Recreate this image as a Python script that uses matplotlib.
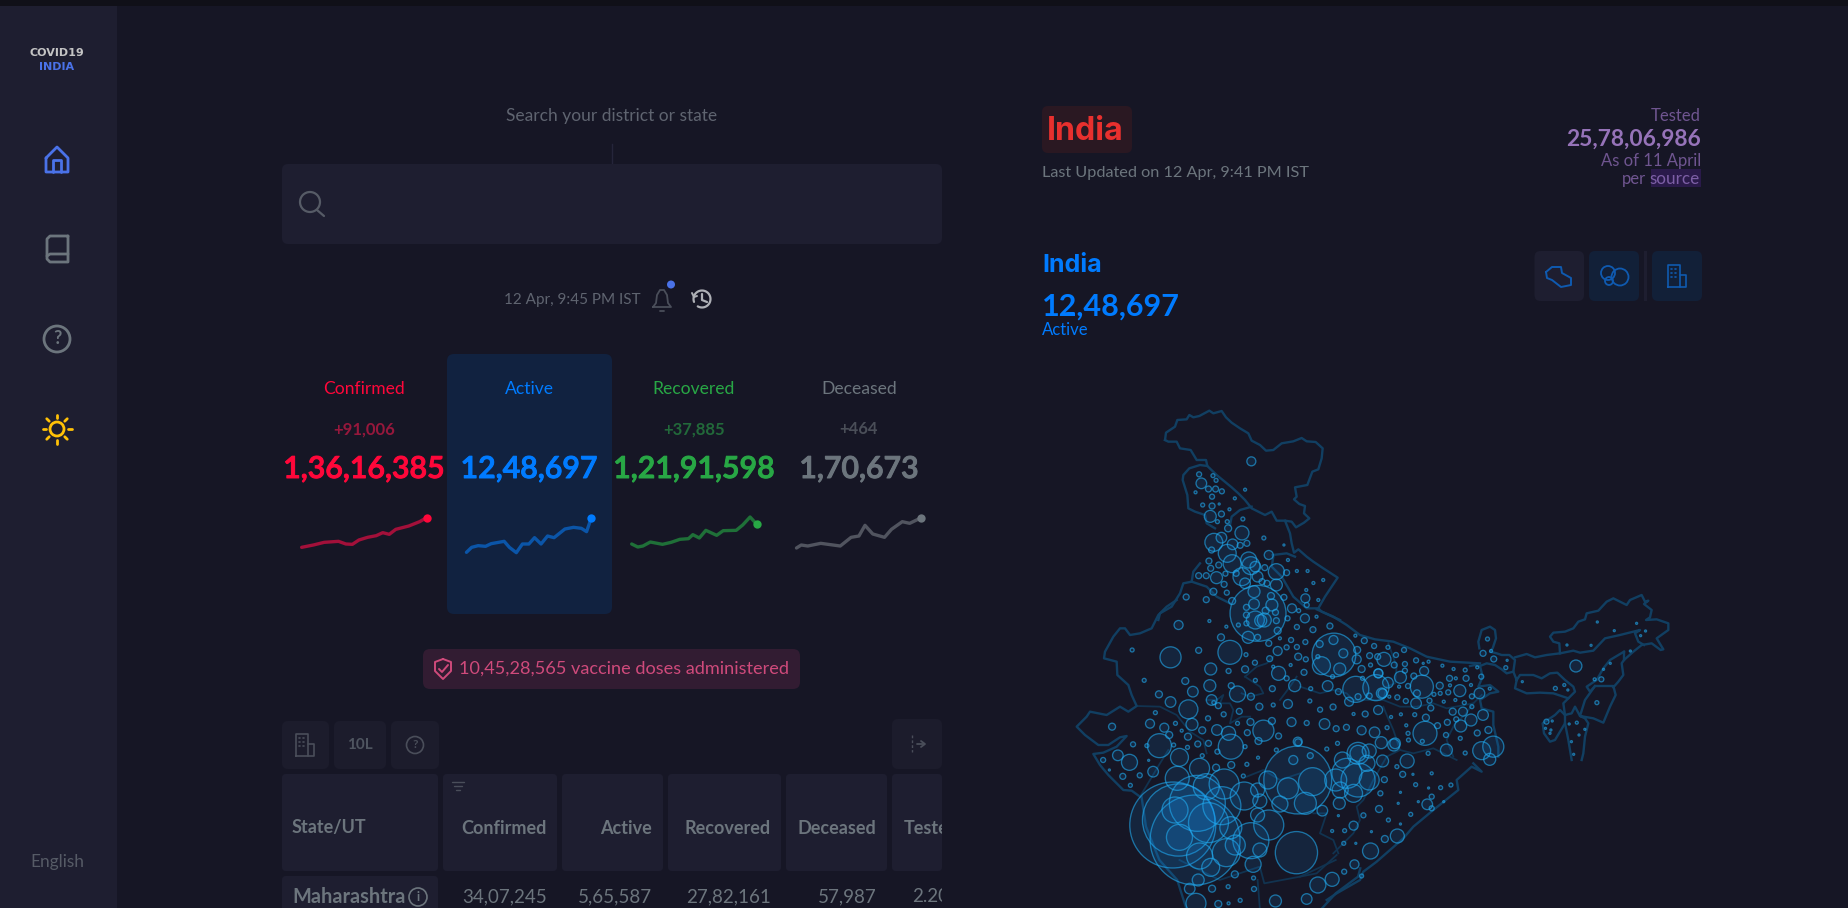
import matplotlib
matplotlib.use("Agg")
import matplotlib.pyplot as plt
import matplotlib.patheffects as pe
import numpy as np
from matplotlib.patches import FancyBboxPatch, Circle, Rectangle
from matplotlib.transforms import Bbox

plt.rcParams["font.family"] = ["Lato", "DejaVu Sans"]

# headline numbers
stat_labels = ["Confirmed", "Active", "Recovered", "Deceased"]
stat_deltas = ["+91,006", "", "+37,885", "+464"]
stat_totals = ["1,36,16,385", "12,48,697", "1,21,91,598", "1,70,673"]

confirmed_x = [73, 100, 125, 158, 175, 190, 205, 225, 245, 260, 275, 290, 320, 345, 361]
confirmed_y = [622, 615, 607, 604, 612, 613, 600, 592, 587, 578, 583, 568, 558, 545, 533]
active_x = [453, 465, 480, 497, 510, 540, 552, 568, 582, 597, 610, 625, 640, 655, 680, 700, 718, 730, 741]
active_y = [637, 622, 617, 619, 611, 604, 622, 638, 612, 612, 593, 612, 588, 593, 567, 562, 565, 575, 533]
recovered_x = [834, 848, 860, 877, 905, 925, 945, 965, 975, 990, 1005, 1030, 1045, 1075, 1090, 1107, 1122]
recovered_y = [612, 621, 618, 606, 613, 607, 598, 596, 584, 594, 571, 586, 572, 571, 555, 531, 552]
deceased_x = [1214, 1225, 1240, 1270, 1315, 1340, 1358, 1372, 1390, 1417, 1433, 1458, 1475, 1502]
deceased_y = [624, 615, 618, 610, 618, 592, 588, 556, 582, 592, 568, 545, 550, 533]

# table
table_headers = ["Confirmed", "Active", "Recovered", "Deceased"]
maharashtra_row = ["34,07,245", "5,65,587", "27,82,161", "57,987"]

# map borders traced per crop, (crop origin, points)
north_outer = [(45,120),(48,98),(75,80),(82,60),(110,58),(118,45),(130,52),(148,48),(178,32),(190,40),(215,33),(228,52),
    (245,68),(270,85),(295,100),(305,122),(330,135),(348,152),(370,150),(395,130),(430,124),(455,114),(470,124),(497,126),
    (518,145),(515,175),(505,208),(487,215),(472,255),(435,262),(440,290),(432,298),(448,312),(465,318),(462,340),(478,355),
    (462,368),(438,382),(425,365),(405,362),(420,400),(425,430),(432,458),(445,448),(470,470),(490,485),(520,505),(563,533),
    (545,560),(525,590),(505,625),(515,635),(570,660)]
north_west = [(45,120),(55,125),(80,125),(90,145),(122,150),(140,180),(168,180),(172,198),(150,195),(118,205),(100,225),
    (98,240),(112,285),(115,325),(135,335),(165,345),(170,370),(195,385)]
north_inner = [
    [(172,198),(200,225),(245,262),(265,280),(285,300),(305,325),(345,345),(365,335),(380,362),(405,362)],
    [(305,320),(270,330),(245,350),(240,375)],
    [(368,465),(410,460),(435,470)],
    [(370,470),(365,500),(395,530),(430,590),(470,625),(505,625)],
    [(150,490),(130,515),(125,545),(100,550),(90,580),(65,620),(30,640),(25,660)],
    [(125,545),(170,560),(200,590),(240,610)],
]
east_outer = [
    [(28,205),(25,185),(35,150),(60,140),(75,150),(78,175),(68,205),(60,215),(80,220),(95,225),(118,225),(135,240),(130,275),(110,280),(95,268),(75,255),(50,250),(30,258),(15,255),(0,258)],
    [(135,232),(170,222),(195,232),(230,225),(270,220),(310,212),(330,218),(370,212),(405,175),(450,165),(510,150),(495,160),(505,185),(522,195)],
    [(270,220),(268,190),(250,185),(240,170),(250,158),(285,155),(310,145),(325,125),(345,118),(350,100),(385,92),(410,65),(430,55),(470,75),(480,60),(515,45),(525,65),(535,62),(522,72),(545,90),(540,112),(528,120),(560,118),(595,130),(595,150),(560,175),(580,208),(572,210),(545,190),(515,195),(490,215),(462,240),(455,250),(460,285),(445,305),(430,322)],
    [(462,215),(462,240)],
    [(462,215),(420,240),(400,265),(380,300),(350,320),(360,335),(375,318),(430,318),(437,345),(420,380),(400,428),(370,415),(330,408),(345,415),(355,430),(345,470),(340,520),(335,540)],
    [(375,318),(345,360),(330,408),(315,380),(305,400),(285,405),(280,370),(295,355)],
    [(285,405),(270,390),(255,405),(218,430),(222,460),(240,485),(255,480),(270,455),(285,430),(285,405)],
    [(285,430),(295,480),(305,540)],
    [(130,275),(140,300),(135,325),(170,340),(210,338),(250,340),(295,355),(315,335),(310,320),(285,300),(262,278),(240,280),(215,295),(190,285),(150,285),(140,300)],
    [(30,258),(38,290),(25,320),(60,315),(85,335),(60,340),(30,360),(35,385),(70,395),(70,435),(85,500),(85,530)],
]
west_outer = [(350,0),(320,20),(295,45),(275,85),(240,100),(210,105),(195,85),(180,85),(160,110),(135,155),(132,175),(170,185),
    (172,225),(205,255),(215,285),(230,318),(205,335),(180,320),(140,345),(90,335),(80,350),(50,380),(75,405),(115,435),(145,435),
    (180,412),(200,408),(170,440),(130,458),(100,462),(120,495),(145,525),(190,570),(215,572),(240,590)]
west_inner = [
    [(230,318),(300,320),(320,330),(350,345),(390,395),(430,420),(440,460)],
    [(440,300),(470,300),(490,285),(480,310),(510,310),(520,330),(510,370),(545,350),(570,350)],
    [(555,230),(600,260),(610,280),(570,290),(545,280)],
    [(660,300),(690,260),(710,230)],
    [(555,230),(590,200),(620,190),(640,170)],
    [(240,590),(300,490),(325,450)],
    [(560,530),(610,510),(660,540),(720,520)],
]
gangetic_outer = [(50,28),(100,50),(140,75),(180,105),(225,118),(280,125),(330,145),(380,170),(450,185),(540,190)]
gangetic_inner = [
    [(265,130),(290,200),(285,250),(260,260),(250,300)],
    [(0,260),(60,280),(100,270),(140,280),(160,300),(200,300),(250,300),(300,320),(350,320),(400,310),(440,325),(520,310),(545,285)],
    [(520,310),(495,345),(465,370),(440,420),(460,470)],
    [(250,320),(260,345),(280,390),(300,450),(340,460),(400,445),(450,470),(470,480)],
    [(300,450),(260,470),(220,540),(190,600),(170,620),(180,660),(160,700),(100,760)],
    [(115,760),(100,720),(60,700),(80,640),(40,640)],
    [(0,830),(50,820),(110,765)],
]
east_coast = [(520,490),(545,515),(515,500),(470,540),(475,570),(450,590),(400,630),(340,680),(310,715),(270,750),(230,785),(190,815),(180,840),(110,880),(80,900)]
# west coast below the Gujarat crop, in units of the map axes
south_west_coast = [(205,1190),(215,1280),(245,1380),(285,1440),(305,1524)]
south_east_coast = [(695,1405),(690,1430),(640,1480),(610,1524)]
south_inner = [[(290,1380),(380,1440),(470,1400),(480,1450),(560,1430),(640,1380)], [(465,1440),(470,1524)]]

# large districts: map position and active cases
big_x = [275, 288, 325, 552, 555, 466, 636, 330, 355, 385, 450, 490, 690, 665, 390, 588, 435, 395, 335, 350,
         285, 290, 280, 415, 533, 403, 405, 840, 245, 833, 270, 685, 730, 993, 478, 572, 690, 640, 715, 310,
         967, 290, 608, 488, 360, 327, 335, 680, 405]
big_y = [1275, 1260, 1320, 1358, 1140, 640, 765, 1210, 1268, 1217, 1322, 1275, 1140, 1120, 1152, 1145, 1188, 1358, 1368, 1160,
         1135, 1312, 1230, 1335, 1165, 757, 1040, 1000, 1037, 860, 772, 868, 863, 1040, 992, 1210, 1060, 1140, 1140, 928,
         1052, 1072, 797, 1140, 1402, 1510, 1105, 1180, 1283]
big_active = [85000, 60000, 93000, 20500, 53000, 36000, 22000, 36000, 18400, 16600, 14900, 10350, 13300, 10350, 10350, 9000, 9000, 9000, 7800, 7800,
              6600, 7800, 7800, 4600, 5100, 6600, 7200, 6600, 6600, 6100, 5100, 7800, 7800, 5100, 5100, 5550, 5550, 5550, 4600, 4150,
              3700, 3700, 3700, 3700, 3700, 4600, 4600, 3700, 5550]

# smaller districts grouped by rough active count
cases_3700 = [(430,530),(397,460),(408,491),(367,427),(460,660),(450,497)]
cases_2950 = [(445,480),(507,515),(178,1087),(420,882),(710,1090),(655,1080),(650,1170),(515,1212),(600,1455),(718,1353),(455,1393),(690,1060)]
cases_2250 = [(430,399),(400,1000),(480,660),(748,778),(512,820),(470,1350),(465,1245),(470,1203),(465,1170),(632,1438),(778,1308),(715,1053),(800,1083)]
cases_1650 = [(373,533),(507,555),(359,349),(497,615),(444,712),(457,575),(360,807),(318,973),(358,857),(649,807),(472,662),(548,857),(888,1050),(920,978),(943,960),(785,832),(648,1210),(745,1083),(770,1035),(742,1028),(1178,798),(985,1078),(505,1503),(332,1440),(918,872)]
cases_1300 = [(339,250),(384,413),(409,433),(460,500),(465,530),(437,550),(457,612),(320,875),(362,900),(374,990),(622,858),(743,880),(757,848),(610,1232),(962,880),(773,1030),(970,945),(727,997),(615,972),(270,906),(152,1066),(231,1115),(313,1466),(575,1497),(820,910),(845,1213)]
cases_930 = [(451,184),(490,465),(571,655),(572,595),(542,625),(288,675),(635,720),(510,753),(657,760),(687,778),(838,813),(224,971),(256,983),(533,912),(545,1080),(735,930),(698,991),(682,1393),(680,1277),(736,820),(670,905),(925,935),(541,966),(745,880),(735,820),(555,1025)]
cases_560 = [(399,385),(495,588),(408,603),(483,632),(366,575),(510,692),(383,712),(303,843),(244,883),(450,890),(437,808),(469,920),(449,966),(497,963),(341,991),(267,1005),(309,1010),(139,980),(556,1027),(467,1023),(406,1095),(372,1103),(556,770),(688,750),(604,732),(698,807),(873,857),(822,880),(902,935),(842,953),(982,990),(750,1317),(737,1227),(414,1423),(363,1466),(377,1512)]
cases_410 = [(362,450),(356,483),(378,495),(360,505),(481,503),(530,518),(350,527),(333,527),(417,520),(390,553),(486,550),(475,545),(305,591),(350,599),(524,592),(440,622),(440,645),(505,637),(507,662),(363,318),(384,342),(355,267),(371,267),(426,436),(441,430),(589,689),(627,678),(465,712),(490,730),(492,776),(333,751),(704,722),(716,767),(734,770),(771,795),(569,817),(377,917),(406,857),(498,866),(424,934),(442,998),(646,875),(690,890),(715,888),(634,921),(815,828),(895,835),(932,835),(853,924),(706,942),(868,977),(890,967),(664,982),(641,986),(957,999),(512,1008),(355,1030),(331,1032),(583,1067),(163,1129),(790,1123),(749,1139),(970,760),(994,777)]
cases_290 = [(334,223),(385,274),(363,290),(393,521),(396,578),(575,615),(532,655),(553,681),(440,670),(540,720),(572,726),(530,742),(553,741),(726,738),(775,765),(793,750),(573,778),(400,813),(459,788),(530,835),(605,929),(389,943),(354,955),(797,903),(802,858),(892,877),(945,889),(966,830),(850,902),(778,892),(575,969),(910,958),(887,1005),(186,1033),(375,1055),(119,1080),(201,1126),(740,1180),(855,1190),(702,1246),(659,1415),(457,1467),(1112,965),(1235,838),(855,1225),(795,792),(795,812),(820,781)]
cases_180 = [(372,241),(365,227),(342,315),(397,365),(375,365),(432,357),(479,414),(422,675),(557,632),(600,770),(718,795),(757,742),(930,810),(980,717),(1021,803),(184,750),(439,764),(633,830),(700,835),(211,841),(367,908),(460,841),(500,915),(281,970),(236,938),(420,970),(582,903),(584,866),(860,883),(874,880),(928,908),(945,920),(817,944),(802,1000),(755,983),(919,1015),(930,1059),(847,1060),(834,1024),(803,1020),(644,1030),(620,1047),(507,1050),(437,1040),(277,1035),(217,1037),(308,1042),(341,1067),(441,1093),(180,1156),(433,1128),(777,1100),(819,1154),(875,1163),(898,1155),(808,1243),(758,1260),(660,1292),(658,1330),(698,1428),(399,1460),(456,1434),(426,1501),(1225,908),(1132,865)]
cases_100 = [(437,269),(326,277),(414,295),(402,328),(533,480),(553,513),(577,513),(612,540),(590,549),(574,570),(601,600),(597,650),(357,663),(395,680),(515,715),(684,707),(848,785),(879,797),(904,807),(957,802),(988,753),(500,800),(539,795),(760,890),(782,860),(909,835),(896,856),(943,855),(985,866),(908,900),(882,905),(680,942),(764,951),(786,943),(798,976),(295,992),(466,1073),(855,1120),(632,1293),(400,1510),(1220,838),(1152,855),(1180,968)]
cases_46 = [(379,312),(524,435),(836,790),(1024,781),(221,1081),(133,1110),(813,1123),(848,1164),(785,1177),(780,1210),(825,1205),(882,1205),(646,1247),(785,1272),(720,1295),(685,1330),(1226,666),(1264,692),(1314,670),(1334,693),(1323,707),(1212,736),(1158,735),(1300,753),(1255,790),(1240,808),(1058,845),(1160,870),(1163,972),(1125,963),(1110,985),(1120,1000),(1198,988),(1185,1005),(1168,1025),(1173,1063),(1122,990)]
case_bands = [(3700, cases_3700), (2950, cases_2950), (2250, cases_2250), (1650, cases_1650), (1300, cases_1300),
              (930, cases_930), (560, cases_560), (410, cases_410), (290, cases_290), (180, cases_180),
              (100, cases_100), (46, cases_46)]

BG = "#161625"
PANEL = "#1e1e30"
GREY = "#6c757d"
DIM = "#565b66"

fig = plt.figure(figsize=(18.48, 9.08), dpi=100, facecolor=BG)
ax = fig.add_axes([0, 0, 1, 1])
ax.set_xlim(0, 1848)
ax.set_ylim(908, 0)
ax.axis("off")


def box(x0, y0, x1, y1, color, r=6, z=1):
    ax.add_patch(FancyBboxPatch((x0 + r, y0 + r), x1 - x0 - 2 * r, y1 - y0 - 2 * r,
                                boxstyle=f"round,pad={r},rounding_size={r}", fc=color, ec="none", zorder=z))


def txt(x, y, s, color, size, ha="center", weight="normal", **kw):
    return ax.text(x, y + 1, s, color=color, fontsize=size, ha=ha, va="center", fontweight=weight, zorder=5, **kw)


def icon(xs, ys, color, lw=1.6):
    ax.plot(xs, ys, color=color, lw=lw, solid_capstyle="round", solid_joinstyle="round", zorder=5)


def ring(x, y, r, color, lw=1.6):
    ax.add_patch(Circle((x, y), r, fc="none", ec=color, lw=lw, zorder=5))


def building(cx, cy, color):
    icon([cx-9, cx-9, cx+3, cx+3, cx-9], [cy+11, cy-11, cy-11, cy+11, cy+11], color, 1.2)
    icon([cx+3, cx+9, cx+9, cx+3], [cy-1, cy-1, cy+11, cy+11], color, 1.2)
    for dx in (-6, -2):
        for dy in (-7, -3, 1):
            icon([cx+dx, cx+dx+1], [cy+dy, cy+dy], color, 1.2)


# page chrome
ax.add_patch(Rectangle((0, 0), 1848, 6, fc="#101018", ec="none", zorder=0))
ax.add_patch(Rectangle((0, 6), 117, 902, fc=PANEL, ec="none", zorder=0))

txt(57, 51.5, "COVID19", "#c4c4c4", 8, weight="bold", family="DejaVu Sans")
txt(57, 66, "INDIA", "#4a72e8", 8, weight="bold", family="DejaVu Sans")
txt(57, 861, "English", DIM, 12.4)

# home
icon([46, 57, 68, 68, 46, 46], [158, 147, 158, 172, 172, 158], "#4a72e8", 2)
icon([53, 53, 61, 61], [172, 160, 160, 172], "#4a72e8", 2)
# book
icon([68, 50, 47, 47, 50, 68, 68], [236, 236, 239, 259, 262, 262, 236], GREY, 2)
icon([47, 50, 68], [256, 254, 254], GREY, 2)
# help
ring(57, 339, 13, GREY, 2)
txt(57, 338, "?", GREY, 13, weight="bold")
# sun
ring(57, 429, 7, "#ffc107", 2)
for a in np.arange(0, 360, 45):
    c, s = np.cos(np.radians(a)), np.sin(np.radians(a))
    icon([57 + 11 * c, 57 + 14.5 * c], [429 + 11 * s, 429 + 14.5 * s], "#ffc107", 2)

# search
txt(611.5, 115, "Search your district or state", "#5f6470", 12.5)
ax.plot([611.5, 611.5], [144, 164], color="#25253a", lw=1, zorder=1)
box(282, 164, 942, 244, PANEL)
ring(310, 202, 10, DIM, 1.6)
icon([317, 324], [210, 216], DIM, 1.6)

txt(572, 299, "12 Apr, 9:45 PM IST", "#5f6470", 11)
icon([653, 656, 657, 660, 664, 667, 668, 671, 653], [307, 303, 295, 290, 290, 295, 303, 307, 307], "#4a4e5a", 1.3)
icon([660, 664], [311, 311], "#4a4e5a", 1.3)
ax.add_patch(Circle((671, 284.5), 4, fc="#4a72e8", ec="none", zorder=5))
arc = np.radians(np.arange(-200, 130, 10))
icon(702 + 8.5 * np.cos(arc), 299 + 8.5 * np.sin(arc), "#aeb0b6", 1.6)
icon([692, 694, 697], [293, 297, 296], "#aeb0b6", 1.4)
icon([702, 702, 707], [294, 300, 302], "#aeb0b6", 1.6)

# stat row
box(447, 354, 612, 614, "#112240", r=7)
stat_colors = ["#ff073a", "#007bff", "#28a745", "#6c757d"]
delta_colors = ["#96183c", "", "#22693a", "#4a4e58"]
line_colors = ["#a3103a", "#0b55a8", "#1f7038", "#51545f"]
stat_cx = [364, 529, 694, 859]
for i in range(4):
    txt(stat_cx[i], 387.5, stat_labels[i], stat_colors[i], 12.6)
    if stat_deltas[i]:
        txt(stat_cx[i], 428.5, stat_deltas[i], delta_colors[i], 12, weight="bold")
    t = txt(stat_cx[i], 468, stat_totals[i], stat_colors[i], 21.8, weight="semibold")
    t.set_path_effects([pe.withStroke(linewidth=0.7, foreground=stat_colors[i])])

# sparkline axes uses the crop's units (680x290 px crop at 1568x870)
sp = fig.add_axes([270 / 1848, 1 - 630 / 908, 680 / 1848, 290 / 908])
sp.set_xlim(0, 1568)
sp.set_ylim(870, 0)
sp.axis("off")
series = [(confirmed_x, confirmed_y), (active_x, active_y), (recovered_x, recovered_y), (deceased_x, deceased_y)]
for i, (sx, sy) in enumerate(series):
    sp.plot(sx, sy, color=line_colors[i], lw=2.4, solid_capstyle="round", solid_joinstyle="round")
    sp.plot(sx[-1], sy[-1], "o", color=stat_colors[i], ms=6, mec="none")

# vaccine pill
box(423, 649, 800, 689, "#321c32", r=7)
pink = "#cf4a7b"
icon([443, 451, 451, 443, 435, 435, 443], [659, 662, 671, 679, 671, 662, 659], pink, 1.4)
icon([439, 442, 448], [669, 672, 665], pink, 1.4)
txt(459, 668, "10,45,28,565 vaccine doses administered", pink, 13.1, ha="left")

# table toolbar
btn = "#1c1c2c"
box(282, 721, 329, 769, btn)
box(334, 721, 386, 769, btn)
box(391, 721, 439, 769, btn)
box(892, 719, 942, 769, btn)
building(305, 745, "#4a4e5a")
txt(360, 744, "10L", "#4f5560", 11, weight="bold")
ring(415, 745, 8.5, "#4a4e5a", 1.2)
txt(415, 744, "?", "#4a4e5a", 8.5, weight="bold")
ax.plot([912, 912], [735, 752], color="#4a4e5a", lw=1, ls=(0, (2, 1.5)), zorder=5)
icon([917, 924], [744, 744], "#4a4e5a", 1.3)
icon([921, 925, 921], [741, 744, 747], "#4a4e5a", 1.3)

# table
col_edges = [(282, 438), (443, 557), (562, 663), (668, 781), (786, 887), (892, 942)]
for x0, x1 in col_edges:
    box(x0, 774, x1, 871, PANEL, r=4)
box(282, 876, 438, 916, PANEL, r=4)
txt(292, 827, "State/UT", GREY, 13, ha="left", weight="bold")
col_right = [547, 652, 771, 876.5]
for i in range(4):
    txt(col_right[i], 827, table_headers[i], GREY, 13, ha="right", weight="bold")
    txt(col_right[i], 896, maharashtra_row[i], GREY, 13.5, ha="right")
clip = Bbox.from_extents(0, 0, 942, 908)
for t in (txt(904, 827, "Tested", GREY, 13, ha="left", weight="bold"),
          txt(912, 896, "2.20", GREY, 13.5, ha="left")):
    t.set_clip_box(clip)
    t.set_clip_on(True)
txt(292, 896, "Maharashtra", GREY, 14.4, ha="left", weight="bold")
ring(418, 897, 9, GREY, 1.2)
txt(418, 896, "i", GREY, 9, weight="bold")
for w, y in zip((6, 4, 2), (782, 786, 790)):
    icon([458 - w, 458 + w], [y, y], "#4a4e5a", 1)

# right header
box(1042, 106, 1132, 153, "#2a1822", r=6)
txt(1047, 130, "India", "#e8302e", 23.2, ha="left", weight="bold", family="Inter")
txt(1042, 172, "Last Updated on 12 Apr, 9:41 PM IST", GREY, 11.7, ha="left")
ax.add_patch(Rectangle((1651, 169), 50, 18, fc="#2a1a4a", ec="none", zorder=1))
txt(1701, 115, "Tested", "#6f5590", 12, ha="right")
txt(1701, 138, "25,78,06,986", "#9673b9", 16.4, ha="right", weight="bold")
txt(1701, 160, "As of 11 April", "#6f5590", 12, ha="right")
txt(1700, 178, "source", "#7d5fa6", 12.3, ha="right")
txt(1646, 178, "per", "#6f5590", 12, ha="right")

txt(1042, 265, "India", "#007bff", 18, ha="left", weight="bold", family="Inter")
txt(1042, 306, "12,48,697", "#007bff", 22, ha="left", weight="bold")
txt(1042, 329, "Active", "#007bff", 12, ha="left")

box(1534.5, 251, 1584, 301, PANEL)
box(1589, 251, 1639, 301, "#122038")
ax.add_patch(Rectangle((1644, 251), 2.5, 50, fc="#1e1e30", ec="none", zorder=1))
box(1652, 251, 1702, 301, "#122038")
icon_blue = "#0f5ab0"
icon([1546, 1552, 1561, 1562, 1571, 1571, 1561, 1552, 1547, 1546],
     [272, 267, 267, 273, 278, 285, 287, 280, 278, 272], icon_blue, 1.4)
ring(1608, 273, 7, icon_blue, 1.3)
ring(1620, 277, 8.5, icon_blue, 1.3)
ring(1609, 281, 4, icon_blue, 1.3)
building(1677, 276, icon_blue)

# map in the units of its crop (700x508 px crop at 1568x1524)
mp = fig.add_axes([1050 / 1848, 0, 700 / 1848, 508 / 908])
mp.set_xlim(0, 1568)
mp.set_ylim(1524, 0)
mp.axis("off")


def draw_crop(points, x0, y0, color, lw, z):
    p = np.array(points, dtype=float)
    mx = (x0 - 1050 + p[:, 0] / 3) * 2.24
    my = (y0 - 400 + p[:, 1] / 3) * 3
    mp.plot(mx, my, color=color, lw=lw, zorder=z, solid_joinstyle="round")


outer_col = "#113f62"
inner_col = "#113350"
draw_crop(north_outer, 1150, 400, outer_col, 1.7, 2)
draw_crop(north_west, 1150, 400, outer_col, 1.7, 2)
for line in north_inner:
    draw_crop(line, 1150, 400, outer_col, 1.7, 2)
for line in east_outer:
    draw_crop(line, 1470, 580, outer_col, 1.7, 2)
draw_crop(west_outer, 1060, 600, outer_col, 1.7, 2)
for line in west_inner:
    draw_crop(line, 1060, 600, inner_col, 1.3, 1)
draw_crop(gangetic_outer, 1300, 600, outer_col, 1.7, 2)
for line in gangetic_inner:
    draw_crop(line, 1300, 600, inner_col, 1.3, 1)
draw_crop(east_coast, 1300, 600, outer_col, 1.7, 2)
for line in [south_west_coast, south_east_coast]:
    b = np.array(line)
    mp.plot(b[:, 0], b[:, 1], color=outer_col, lw=1.7, zorder=2)
for line in south_inner:
    b = np.array(line)
    mp.plot(b[:, 0], b[:, 1], color=inner_col, lw=1.3, zorder=1)

all_x = list(big_x)
all_y = list(big_y)
all_active = list(big_active)
for active, pts in case_bands:
    all_x += [p[0] for p in pts]
    all_y += [p[1] for p in pts]
    all_active += [active] * len(pts)
radius_px = np.sqrt(np.array(all_active) / 46)
mp.scatter(all_x, all_y, s=(2 * radius_px * 0.72) ** 2, facecolor=(0.08, 0.58, 0.95, 0.12),
           edgecolor=(0.13, 0.68, 0.95, 0.6), linewidth=0.95, zorder=3)

fig.savefig("out.png", dpi=100, facecolor=BG)
